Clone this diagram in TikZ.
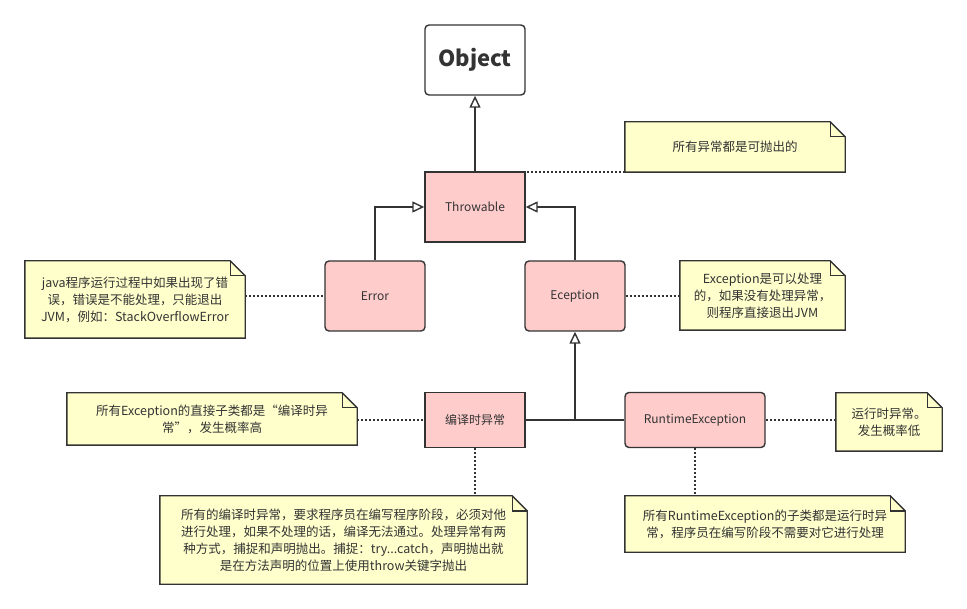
\documentclass[tikz,border=0pt]{standalone}
\usepackage{fontspec}
\setmainfont{Noto Sans CJK SC}
\usetikzlibrary{arrows.meta,backgrounds}
\definecolor{ink}{HTML}{333333}
\definecolor{pinkfill}{HTML}{FFCCCC}
\definecolor{notefill}{HTML}{FFFFCC}
\tikzset{
  cls/.style={draw=ink, line width=1.4pt, fill=pinkfill, text=ink, font=\fontsize{12}{14}\selectfont, inner sep=0pt},
  rcls/.style={cls, rounded corners=4pt},
  notetext/.style={text=ink, font=\fontsize{12.5}{17}\selectfont, align=center, inner sep=0pt},
  notebox/.style={draw=ink, line width=1.4pt, fill=notefill},
  foldline/.style={draw=ink, line width=1.4pt},
  gen/.style={draw=ink, line width=1.4pt, -{Triangle[open,length=12pt,width=11pt,fill=white]}},
  plainline/.style={draw=ink, line width=1.4pt},
  dotline/.style={draw=ink, line width=1.5pt, dash pattern=on 2pt off 2pt}
}
\begin{document}
\begin{tikzpicture}[x=1pt,y=-1pt]
\useasboundingbox (0,0) rectangle (967,609);
% classes
\node[rcls, fill=white, minimum width=100pt, minimum height=70pt, font=\fontsize{22}{26}\selectfont\bfseries] (obj) at (475,60) {Object};
\node[cls, minimum width=100pt, minimum height=70pt] (thr) at (475,207) {Throwable};
\node[rcls, minimum width=100pt, minimum height=70pt] (err) at (375,296) {Error};
\node[rcls, minimum width=100pt, minimum height=70pt] (exc) at (575,296) {Eception};
\node[cls, minimum width=100pt, minimum height=55pt] (cex) at (475,420) {编译时异常};
\node[rcls, minimum width=140pt, minimum height=55pt] (rte) at (695,420) {RuntimeException};
% notes (text only; frames drawn on background)
\node[notetext, minimum width=220pt, minimum height=50pt] (n1) at (735,147) {所有异常都是可抛出的};
\node[notetext, minimum width=220pt, minimum height=77pt] (n2) at (135,299.5) {java程序运行过程中如果出现了错\\误，错误是不能处理，只能退出\\JVM，例如：StackOverflowError};
\node[notetext, minimum width=165pt, minimum height=69pt] (n3) at (762.5,295.5) {Exception是可以处理\\的，如果没有处理异常，\\则程序直接退出JVM};
\node[notetext, minimum width=290pt, minimum height=52pt] (n4) at (212,419) {所有Exception的直接子类都是“编译时异\\常”，发生概率高};
\node[notetext, minimum width=106pt, minimum height=58pt] (n5) at (889,422) {运行时异常。\\发生概率低};
\node[notetext, minimum width=367pt, minimum height=88pt] (n6) at (343.5,540) {所有的编译时异常，要求程序员在编写程序阶段，必须对他\\进行处理，如果不处理的话，编译无法通过。处理异常有两\\种方式，捕捉和声明抛出。捕捉：try...catch，声明抛出就\\是在方法声明的位置上使用throw关键字抛出};
\node[notetext, minimum width=280pt, minimum height=56pt] (n7) at (765,524) {所有RuntimeException的子类都是运行时异\\常，程序员在编写阶段不需要对它进行处理};
\begin{scope}[on background layer]
\foreach \n in {n1,n2,n3,n4,n5,n6,n7}{
  \path[notebox] (\n.south west) -- (\n.north west) -- ([xshift=-15pt]\n.north east) -- ([yshift=-15pt]\n.north east) -- (\n.south east) -- cycle;
  \path[foldline] ([xshift=-15pt]\n.north east) -- ([xshift=-15pt,yshift=-15pt]\n.north east) -- ([yshift=-15pt]\n.north east);
}
\end{scope}
% generalisations
\draw[gen] (thr.north) -- (obj.south);
\draw[gen] (err.north) |- (thr.west);
\draw[gen] (exc.north) |- (thr.east);
\draw[plainline] (cex.east) -- (rte.west);
\coordinate (junc) at (cex.east -| exc.south);
\draw[gen] (junc) -- (exc.south);
% note links
\draw[dotline] (n1.south west) -- (n1.south west -| thr.east);
\draw[dotline] (n2.east |- err.west) -- (err.west);
\draw[dotline] (exc.east) -- (n3.west |- exc.east);
\draw[dotline] (n4.east |- cex.west) -- (cex.west);
\draw[dotline] (rte.east) -- (n5.west |- rte.east);
\draw[dotline] (cex.south) -- (n6.north -| cex.south);
\draw[dotline] (rte.south) -- (n7.north -| rte.south);
\end{tikzpicture}
\end{document}
